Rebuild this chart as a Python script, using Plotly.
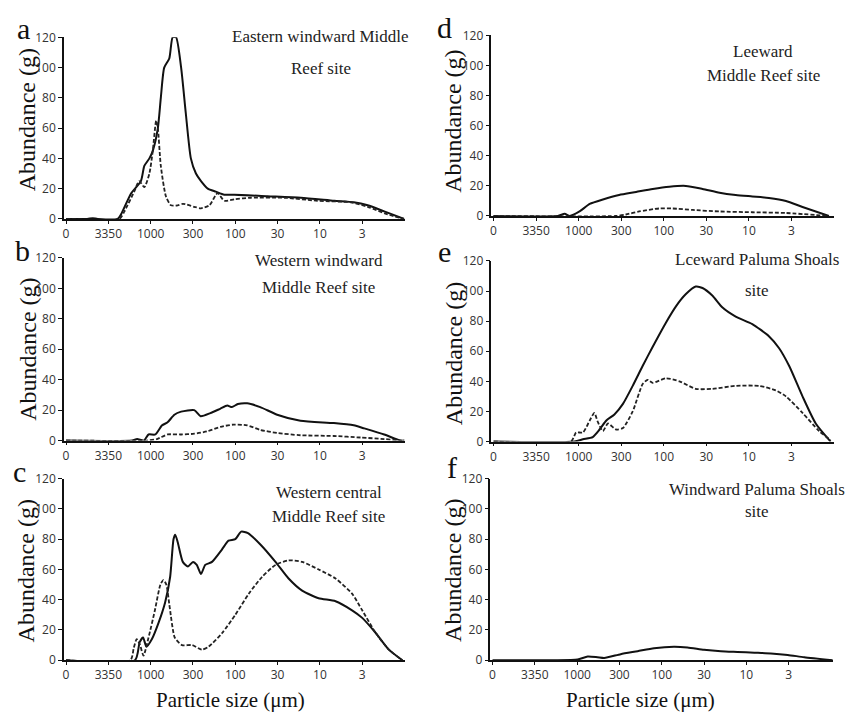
import plotly.graph_objects as go

W, H = 849, 720

tick_labels = ["0", "3350", "1000", "300", "100", "30", "10", "3"]
tick_pos = list(range(len(tick_labels)))
y_ticks = [0, 20, 40, 60, 80, 100, 120]

# ---- panel a ----
a_solid_x = [0, 0.5, 0.63, 0.75, 1.22, 1.3, 1.54, 1.77, 1.85, 1.97, 2.05, 2.17, 2.24, 2.32, 2.44, 2.52, 2.6, 2.72, 2.83, 2.95, 3.07, 3.19, 3.35, 3.54, 3.74, 3.98, 4.76, 5.55, 6.34, 6.8, 7.13, 7.52, 7.99]
a_solid_y = [0, 0, 0.5, 0, 0, 3, 17, 25, 35, 40, 45, 60, 80, 100, 106, 120, 120, 100, 70, 40, 30, 25, 20, 18, 16, 16, 15, 14, 12, 11, 9, 5, 0]
a_dash_x = [0, 1.26, 1.38, 1.61, 1.73, 1.85, 1.97, 2.05, 2.13, 2.17, 2.24, 2.36, 2.48, 2.64, 2.76, 3.03, 3.19, 3.39, 3.58, 3.74, 3.98, 4.37, 5.16, 5.94, 6.73, 7.13, 7.6, 7.99]
a_dash_y = [0, 0, 5, 18, 25, 21, 30, 45, 65, 60, 35, 15, 9, 9, 10, 8, 7, 9, 17, 12, 13, 14, 14, 12, 11, 8, 3, 0]

# ---- panel b ----
b_solid_x = [0, 1.56, 1.68, 1.84, 1.95, 2.11, 2.27, 2.4, 2.56, 2.72, 3.03, 3.18, 3.41, 3.65, 3.81, 3.92, 4.06, 4.28, 4.59, 4.99, 5.54, 6.33, 6.8, 7.05, 7.52, 7.9, 8.0]
b_solid_y = [0, 0, 1, 0, 4, 4, 10, 12, 17, 19, 20, 16, 18, 21, 23, 22, 24, 24.5, 22, 17, 13, 11.5, 10, 8, 4, 0, 0]
b_dash_x = [0, 1.91, 2.15, 2.4, 2.72, 3.03, 3.33, 3.65, 3.96, 4.28, 4.59, 4.99, 5.54, 6.33, 6.96, 7.52, 7.9, 8.0]
b_dash_y = [0, 0, 1, 4, 4, 4.5, 6, 9, 10.5, 10, 7, 5, 3.5, 3, 2, 1, 0, 0]

# ---- panel c ----
c_solid_x = [0, 1.63, 1.74, 1.82, 1.9, 2.03, 2.19, 2.34, 2.46, 2.54, 2.58, 2.64, 2.76, 2.88, 3.0, 3.09, 3.19, 3.29, 3.45, 3.68, 3.84, 4.0, 4.14, 4.3, 4.61, 4.95, 5.26, 5.58, 5.97, 6.37, 6.76, 7.0, 7.32, 7.63, 7.95]
c_solid_y = [0, 0, 12, 15, 9, 14, 25, 38, 55, 80, 83, 78, 65, 62, 65, 63, 57, 63, 65, 73, 79, 80, 85, 84, 76, 65, 54, 46, 41, 39, 33, 28, 18, 7, 0]
c_dash_x = [0, 1.52, 1.6, 1.67, 1.75, 1.83, 1.95, 2.1, 2.23, 2.3, 2.37, 2.45, 2.57, 2.74, 2.98, 3.21, 3.37, 3.69, 4.0, 4.32, 4.63, 4.95, 5.26, 5.58, 5.97, 6.37, 6.76, 7.0, 7.32, 7.63, 7.95]
c_dash_y = [0, 0, 8, 14, 10, 3, 15, 33, 50, 53, 50, 35, 15, 10, 10, 7, 9, 18, 30, 44, 55, 63, 66, 65, 60, 54, 44, 33, 18, 7, 0]

# ---- panel d ----
d_solid_x = [0, 1.51, 1.67, 1.79, 2.02, 2.26, 2.57, 2.95, 3.35, 3.74, 4.13, 4.52, 4.91, 5.31, 5.69, 6.08, 6.47, 6.87, 7.26, 7.88]
d_solid_y = [0, 0, 1.5, 0, 3, 8, 11, 14, 16, 18, 19.5, 20, 18, 15.5, 14, 13, 12, 10, 6, 0]
d_dash_x = [0, 2.87, 3.11, 3.42, 3.89, 4.21, 4.68, 5.31, 6.08, 6.87, 7.88]
d_dash_y = [0, 0, 1, 3, 5, 5, 4, 3, 2.5, 2, 0]

# ---- panel e ----
e_solid_x = [0, 1.90, 2.10, 2.33, 2.49, 2.65, 2.84, 3.04, 3.27, 3.50, 3.74, 4.05, 4.29, 4.52, 4.75, 4.91, 5.14, 5.38, 5.69, 6.08, 6.47, 6.71, 6.95, 7.26, 7.57, 7.92]
e_solid_y = [0, 0, 1.5, 3, 8, 14, 18, 25, 37, 50, 63, 79, 90, 98, 103, 102, 97, 89, 83, 78, 70, 62, 50, 30, 12, 0]
e_dash_x = [0, 1.82, 1.94, 2.10, 2.26, 2.37, 2.45, 2.57, 2.69, 2.88, 3.04, 3.27, 3.50, 3.62, 3.74, 4.05, 4.37, 4.75, 5.14, 5.69, 6.24, 6.63, 6.87, 7.26, 7.65, 7.92]
e_dash_y = [0, 0, 6, 6, 14, 19, 13, 7, 12, 8, 9, 20, 38, 41, 39, 42, 40, 35, 35, 37, 37, 34, 30, 19, 7, 1]

# ---- panel f ----
f_solid_x = [0, 1.46, 2.01, 2.25, 2.48, 2.64, 3.03, 3.43, 3.82, 4.29, 4.61, 5.0, 5.4, 5.79, 6.19, 6.58, 6.98, 7.37, 8.04]
f_solid_y = [0, 0, 0.5, 2.5, 2, 1.5, 4, 6, 8, 9, 8.5, 7, 6, 5.5, 5, 4.5, 3.5, 2, 0]

panels = [
    dict(letter="a", title=["Eastern windward Middle", "Reef site"],
         solid=(a_solid_x, a_solid_y), dash=(a_dash_x, a_dash_y)),
    dict(letter="b", title=["Western windward", "Middle Reef site"],
         solid=(b_solid_x, b_solid_y), dash=(b_dash_x, b_dash_y)),
    dict(letter="c", title=["Western central", "Middle Reef site"],
         solid=(c_solid_x, c_solid_y), dash=(c_dash_x, c_dash_y)),
    dict(letter="d", title=["Leeward", "Middle Reef site"],
         solid=(d_solid_x, d_solid_y), dash=(d_dash_x, d_dash_y)),
    dict(letter="e", title=["Lceward Paluma Shoals", "site"],
         solid=(e_solid_x, e_solid_y), dash=(e_dash_x, e_dash_y)),
    dict(letter="f", title=["Windward Paluma Shoals", "site"],
         solid=(f_solid_x, f_solid_y), dash=None),
]

# pixel geometry (layout only)
geom = [
    dict(x0=63, x1=404, yt=29, yb=215, xmax=8.0, lx=23, ly=20, tx=26, ty=113, cx=320, ys=[28, 61]),
    dict(x0=63, x1=404, yt=255, yb=442, xmax=8.0, lx=22, ly=247, tx=27, ty=348, cx=318, ys=[258, 285]),
    dict(x0=63, x1=404, yt=481, yb=667, xmax=8.0, lx=19, ly=474, tx=25, ty=575, cx=328, ys=[495, 520]),
    dict(x0=491, x1=834, yt=27, yb=212, xmax=8.0, lx=444, ly=19, tx=453, ty=115, cx=763, ys=[44, 68]),
    dict(x0=491, x1=834, yt=258, yb=443, xmax=8.0, lx=444, ly=248, tx=453, ty=353, cx=757, ys=[257, 288]),
    dict(x0=490, x1=833, yt=481, yb=667, xmax=8.05, lx=452, ly=470, tx=453, ty=575, cx=757, ys=[492, 515]),
]

def px(x):
    return x / W

def py(y):
    return 1 - y / H

SERIF = "Liberation Serif, Times New Roman, serif"
SANS = "Open Sans, Arial, sans-serif"

fig = go.Figure()
layout = dict(width=W, height=H, margin=dict(l=0, r=0, t=0, b=0),
              paper_bgcolor="white", plot_bgcolor="white", showlegend=False)
annotations = []

for i, (p, g) in enumerate(zip(panels, geom)):
    n = i + 1
    xa = "x" if n == 1 else f"x{n}"
    ya = "y" if n == 1 else f"y{n}"
    xkey = "xaxis" if n == 1 else f"xaxis{n}"
    ykey = "yaxis" if n == 1 else f"yaxis{n}"
    sx, sy = p["solid"]
    fig.add_trace(go.Scatter(x=sx, y=sy, mode="lines", xaxis=xa, yaxis=ya, cliponaxis=False,
                             line=dict(color="#111", width=2, shape="spline", smoothing=0.6)))
    if p["dash"] is not None:
        dx, dy = p["dash"]
        fig.add_trace(go.Scatter(x=dx, y=dy, mode="lines", xaxis=xa, yaxis=ya, cliponaxis=False,
                                 line=dict(color="#222", width=1.8, dash="4px,2px",
                                           shape="spline", smoothing=0.6)))
    layout[xkey] = dict(domain=[px(g["x0"]), px(g["x1"])], range=[-0.05, g["xmax"]],
                        anchor=ya, tickvals=tick_pos, ticktext=tick_labels,
                        showline=True, linecolor="#111", linewidth=1.5,
                        showgrid=False, zeroline=False, ticks="outside",
                        ticklen=3, tickcolor="#111", tickwidth=1.2,
                        tickfont=dict(family=SANS, size=12, color="#333"))
    layout[ykey] = dict(domain=[py(g["yb"]), py(g["yt"])], range=[0, 120],
                        anchor=xa, tickvals=y_ticks,
                        showline=True, linecolor="#111", linewidth=1.5,
                        showgrid=False, zeroline=False, ticks="outside",
                        ticklen=4, tickcolor="#111", tickwidth=1.2,
                        tickfont=dict(family=SANS, size=12, color="#333"))
    annotations.append(dict(x=px(g["lx"]), y=py(g["ly"]), xref="paper", yref="paper",
                            text=p["letter"], showarrow=False, xanchor="center", yanchor="middle",
                            font=dict(family=SERIF, size=30, color="#111")))
    annotations.append(dict(x=px(g["tx"]), y=py(g["ty"]), xref="paper", yref="paper",
                            text="Abundance (g)", textangle=-90, showarrow=False,
                            xanchor="center", yanchor="middle",
                            font=dict(family=SERIF, size=24, color="#111")))
    for line, yy in zip(p["title"], g["ys"]):
        annotations.append(dict(x=px(g["cx"]), y=py(yy), xref="paper", yref="paper",
                                text=line, showarrow=False, xanchor="center", yanchor="middle",
                                font=dict(family=SERIF, size=17, color="#222")))

for cx in (230, 640):
    annotations.append(dict(x=px(cx), y=py(708), xref="paper", yref="paper",
                            text="Particle size (μm)", showarrow=False,
                            xanchor="center", yanchor="middle",
                            font=dict(family=SERIF, size=21, color="#111")))

layout["annotations"] = annotations
fig.update_layout(**layout)
fig.write_html("out.html")
